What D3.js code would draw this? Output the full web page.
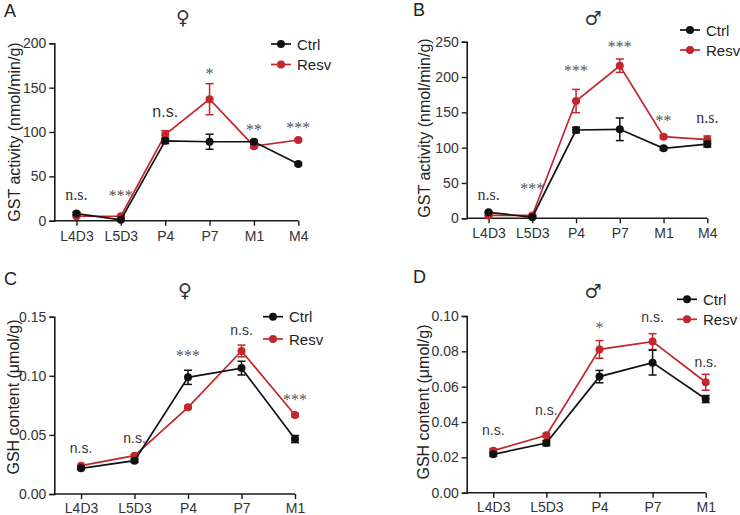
<!DOCTYPE html>
<html>
<head>
<meta charset="utf-8">
<script src="https://cdn.jsdelivr.net/npm/d3@7"></script>
<style>
  html, body { margin: 0; padding: 0; background: #fff; }
  svg { display: block; font-family: "Liberation Sans", Arial, sans-serif; }
</style>
</head>
<body>
<svg id="chart" width="740" height="515"></svg>
<script>
// ---------- data ----------
const catsGST = ["L4D3", "L5D3", "P4", "P7", "M1", "M4"];
const catsGSH = ["L4D3", "L5D3", "P4", "P7", "M1"];
const seriesNames = ["Ctrl", "Resv"];

const gstFemaleCtrl    = [8, 1, 90, 89, 89, 64];
const gstFemaleCtrlErr = [1.5, 1, 3, 8.5, 2, 1.5];
const gstFemaleResv    = [5, 5, 97, 137, 84, 91];
const gstFemaleResvErr = [1, 1, 4.5, 17.5, 2, 1.5];

const gstMaleCtrl    = [8.5, 1.5, 125, 126, 99, 105];
const gstMaleCtrlErr = [1, 1, 4, 16, 2.5, 4];
const gstMaleResv    = [4, 4, 166, 216, 115.5, 111.5];
const gstMaleResvErr = [1, 1, 16.5, 9.5, 2, 5];

const gshFemaleCtrl    = [0.0217, 0.0282, 0.0987, 0.1065, 0.0465];
const gshFemaleCtrlErr = [0.001, 0.0015, 0.006, 0.0058, 0.003];
const gshFemaleResv    = [0.0240, 0.0324, 0.0733, 0.1210, 0.0668];
const gshFemaleResvErr = [0.001, 0.001, 0.001, 0.005, 0.0015];

const gshMaleCtrl    = [0.0217, 0.0281, 0.0657, 0.0736, 0.0530];
const gshMaleCtrlErr = [0.001, 0.0015, 0.0035, 0.007, 0.002];
const gshMaleResv    = [0.0238, 0.0325, 0.0811, 0.0855, 0.0625];
const gshMaleResvErr = [0.001, 0.001, 0.005, 0.0045, 0.0045];

const ticksGSTFemale = [0, 50, 100, 150, 200];
const ticksGSTMale   = [0, 50, 100, 150, 200, 250];
const ticksGSHFemale = [0, 0.05, 0.10, 0.15];
const ticksGSHMale   = [0, 0.02, 0.04, 0.06, 0.08, 0.10];

const sigA = ["n.s.", "***", "n.s.", "*", "**", "***"];
const sigAy = [23, 22, 117, 160, 97, 99];
const sigAfont = ["serif", "serif", "sans", "serif", "serif", "serif"];
const sigB = ["n.s.", "***", "***", "***", "**", "n.s."];
const sigBy = [26, 35, 202, 236, 131, 135];
const sigBfont = ["serif", "serif", "serif", "serif", "serif", "serif"];
const sigC = ["n.s.", "n.s.", "***", "n.s.", "***"];
const sigCy = [0.0347, 0.0431, 0.1125, 0.1345, 0.0752];
const sigCfont = ["sans", "sans", "serif", "sans", "serif"];
const sigD = ["n.s.", "n.s.", "*", "n.s.", "n.s."];
const sigDy = [0.0327, 0.044, 0.0905, 0.0966, 0.0711];
const sigDfont = ["sans", "sans", "serif", "sans", "sans"];

// ---------- styles ----------
const colors = { Ctrl: "#111111", Resv: "#c1272d" };
const svg = d3.select("#chart");

function drawPanel(p) {
  const g = svg.append("g");
  const x = d3.scaleLinear().domain([p.xMin, p.cats.length - 1]).range([p.x0, p.x1]);
  const y = d3.scaleLinear().domain([0, p.yMax]).range([p.yBottom, p.yTop]);

  // axes
  const yAxis = d3.axisLeft(y).tickValues(p.yTicks).tickFormat(p.yFmt).tickSizeOuter(0).tickSize(5).tickPadding(3);
  const ya = g.append("g").attr("transform", `translate(${p.x0},0)`).call(yAxis);
  const xAxis = d3.axisBottom(x).tickValues(d3.range(p.cats.length)).tickFormat(i => p.cats[i]).tickSizeOuter(0).tickSize(5).tickPadding(p.xPad);
  const xa = g.append("g").attr("transform", `translate(0,${p.yBottom})`).call(xAxis);
  [ya, xa].forEach(a => {
    a.select(".domain").attr("stroke", "#1a1a1a").attr("stroke-width", 1.6);
    a.selectAll(".tick line").attr("stroke", "#1a1a1a").attr("stroke-width", 1.4);
    a.selectAll(".tick text").attr("fill", "#333").style("font-size", "14px").style("font-family", "Liberation Sans, Arial, sans-serif");
  });
  xa.select(".domain").attr("d", `M${p.x0},0H${p.x1}`);

  // series (Resv first, Ctrl on top)
  ["Resv", "Ctrl"].forEach(name => {
    const vals = p.series[name], errs = p.errors[name];
    const col = colors[name];
    const line = d3.line().x((d, i) => x(i)).y(d => y(d));
    g.append("path").datum(vals).attr("d", line).attr("fill", "none").attr("stroke", col).attr("stroke-width", 1.7);
    const eb = g.append("g").attr("stroke", col).attr("stroke-width", 1.5).attr("fill", "none");
    vals.forEach((v, i) => {
      const e = errs[i];
      const cx = x(i), t = y(v + e), b = y(v - e);
      eb.append("line").attr("x1", cx).attr("x2", cx).attr("y1", t).attr("y2", b);
      eb.append("line").attr("x1", cx - 4).attr("x2", cx + 4).attr("y1", t).attr("y2", t);
      eb.append("line").attr("x1", cx - 4).attr("x2", cx + 4).attr("y1", b).attr("y2", b);
    });
    g.selectAll(null).data(vals).enter().append("circle")
      .attr("cx", (d, i) => x(i)).attr("cy", d => y(d)).attr("r", 4).attr("fill", col);
  });

  // significance labels
  const sg = g.append("g").attr("opacity", 0.99);
  p.sig.forEach((s, i) => {
    const serif = p.sigFont[i] === "serif";
    const isStar = s.indexOf("*") >= 0;
    sg.append("text")
      .attr("x", x(i)).attr("y", y(p.sigY[i]))
      .attr("text-anchor", "middle")
      .attr("fill", isStar ? "#555" : "#333")
      .style("font-family", serif ? "Liberation Serif, Times New Roman, serif" : "Liberation Sans, Arial, sans-serif")
      .style("font-size", isStar ? "16px" : (serif ? "16px" : (p.sigBig && p.sigBig[i] ? "16px" : "14px")))
      .text(s);
  });

  // axis label
  g.append("text")
    .attr("transform", `translate(${p.labelX},${p.labelY}) rotate(-90)`)
    .attr("text-anchor", "middle").attr("fill", "#222")
    .style("font-size", "16px")
    .text(p.yLabel);

  // panel letter
  g.append("text").attr("x", p.letterX).attr("y", p.letterY).attr("fill", "#222")
    .style("font-size", "18px").text(p.letter);

  // sex symbol
  g.append("text").attr("x", p.symX).attr("y", p.symY).attr("text-anchor", "middle")
    .attr("dominant-baseline", "central").attr("fill", "#333")
    .style("font-family", "DejaVu Sans, sans-serif").style("font-size", "19px").text(p.sym);

  // legend
  seriesNames.forEach((name, k) => {
    const ly = p.legY[k];
    const col = colors[name];
    g.append("line").attr("x1", p.legX - 10).attr("x2", p.legX + 10).attr("y1", ly).attr("y2", ly)
      .attr("stroke", col).attr("stroke-width", 1.7);
    g.append("circle").attr("cx", p.legX).attr("cy", ly).attr("r", 4).attr("fill", col);
    g.append("text").attr("x", p.legX + 16).attr("y", ly + 5.5).attr("fill", "#222")
      .style("font-size", "15px").text(name);
  });
}

drawPanel({
  cats: catsGST, xMin: -0.5, x0: 54.3, x1: 298.3, yMax: 200, yTop: 43.3, yBottom: 220.7,
  yTicks: ticksGSTFemale, yFmt: d3.format("d"), xPad: 5,
  series: { Ctrl: gstFemaleCtrl, Resv: gstFemaleResv },
  errors: { Ctrl: gstFemaleCtrlErr, Resv: gstFemaleResvErr },
  sig: sigA, sigY: sigAy, sigFont: sigAfont, sigBig: [false, false, true, false, false, false],
  yLabel: "GST activity (nmol/min/g)", labelX: 19.5, labelY: 132,
  letter: "A", letterX: 4, letterY: 17, sym: "♀", symX: 183, symY: 17,
  legX: 281, legY: [44, 64.5]
});

drawPanel({
  cats: catsGST, xMin: -0.5, x0: 466.7, x1: 707.3, yMax: 250, yTop: 41.7, yBottom: 218.3,
  yTicks: ticksGSTMale, yFmt: d3.format("d"), xPad: 5,
  series: { Ctrl: gstMaleCtrl, Resv: gstMaleResv },
  errors: { Ctrl: gstMaleCtrlErr, Resv: gstMaleResvErr },
  sig: sigB, sigY: sigBy, sigFont: sigBfont,
  yLabel: "GST activity (nmol/min/g)", labelX: 430, labelY: 128,
  letter: "B", letterX: 413, letterY: 16, sym: "♂", symX: 593, symY: 17.5,
  legX: 690, legY: [30, 50]
});

drawPanel({
  cats: catsGSH, xMin: -0.5, x0: 54.3, x1: 295, yMax: 0.15, yTop: 316.7, yBottom: 494,
  yTicks: ticksGSHFemale, yFmt: d3.format(".2f"), xPad: 4,
  series: { Ctrl: gshFemaleCtrl, Resv: gshFemaleResv },
  errors: { Ctrl: gshFemaleCtrlErr, Resv: gshFemaleResvErr },
  sig: sigC, sigY: sigCy, sigFont: sigCfont,
  yLabel: "GSH content (μmol/g)", labelX: 18.5, labelY: 397,
  letter: "C", letterX: 4, letterY: 285, sym: "♀", symX: 185, symY: 289.5,
  legX: 273, legY: [316.7, 339]
});

drawPanel({
  cats: catsGSH, xMin: -0.5, x0: 466.7, x1: 705.7, yMax: 0.10, yTop: 316, yBottom: 492.7,
  yTicks: ticksGSHMale, yFmt: d3.format(".2f"), xPad: 4,
  series: { Ctrl: gshMaleCtrl, Resv: gshMaleResv },
  errors: { Ctrl: gshMaleCtrlErr, Resv: gshMaleResvErr },
  sig: sigD, sigY: sigDy, sigFont: sigDfont,
  yLabel: "GSH content (μmol/g)", labelX: 429, labelY: 402,
  letter: "D", letterX: 413, letterY: 283, sym: "♂", symX: 593, symY: 290.5,
  legX: 687, legY: [299.3, 319.3]
});
</script>
</body>
</html>
